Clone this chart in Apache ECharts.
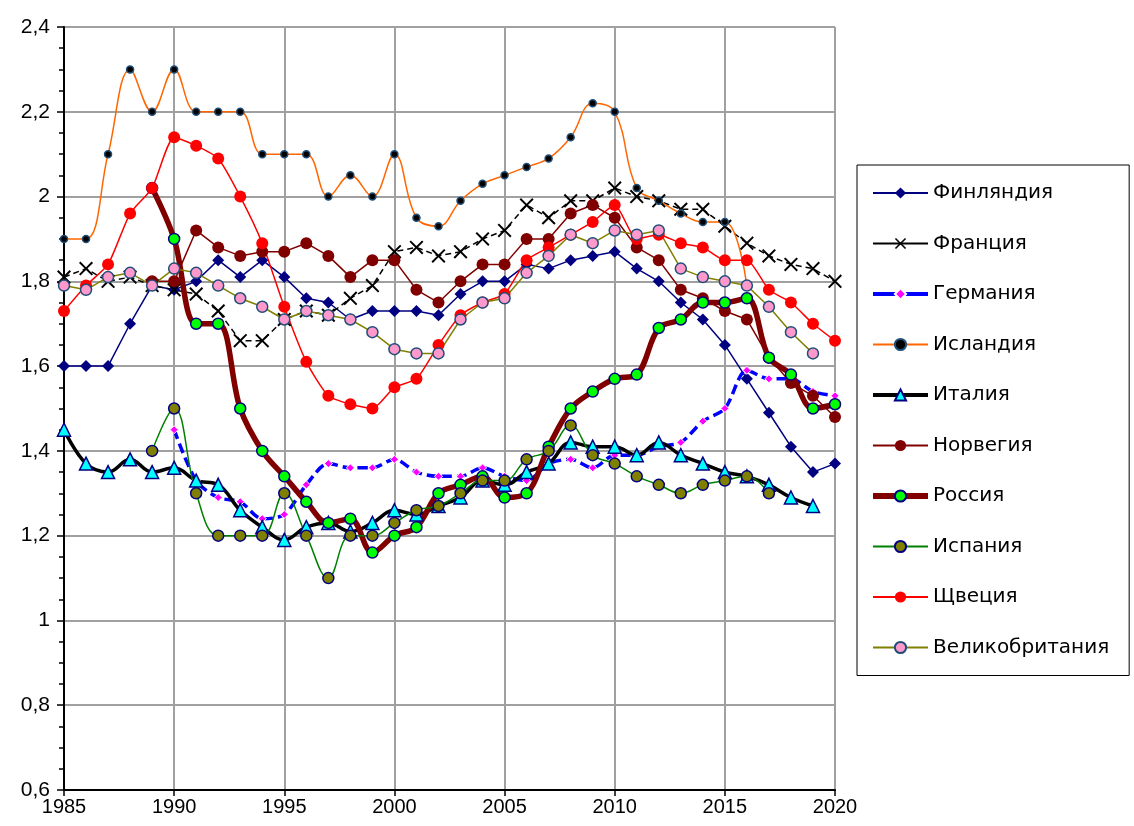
<!DOCTYPE html>
<html>
<head>
<meta charset="utf-8">
<script src="https://cdn.jsdelivr.net/npm/echarts@6/dist/echarts.min.js"></script>
<style>
  html, body { margin: 0; padding: 0; background: #fff; }
  #chart { width: 1134px; height: 826px; }
</style>
</head>
<body>
<div id="chart"></div>
<script>
const years = [];
for (let y = 1985; y <= 2020; y++) years.push(y);

const finland = [1.60,1.60,1.60,1.70,1.79,1.78,1.80,1.85,1.81,1.85,1.81,1.76,1.75,1.71,1.73,1.73,1.73,1.72,1.77,1.80,1.80,1.84,1.83,1.85,1.86,1.87,1.83,1.80,1.75,1.71,1.65,1.57,1.49,1.41,1.35,1.37];
const france = [1.81,1.83,1.80,1.81,1.79,1.78,1.77,1.73,1.66,1.66,1.71,1.73,1.72,1.76,1.79,1.87,1.88,1.86,1.87,1.90,1.92,1.98,1.95,1.99,1.99,2.02,2.00,1.99,1.97,1.97,1.93,1.89,1.86,1.84,1.83,1.80];
const germany = [null,null,null,null,null,1.45,1.33,1.29,1.28,1.24,1.25,1.32,1.37,1.36,1.36,1.38,1.35,1.34,1.34,1.36,1.34,1.33,1.37,1.38,1.36,1.39,1.39,1.41,1.42,1.47,1.50,1.59,1.57,1.57,1.54,1.53];
const iceland = [1.90,1.90,2.10,2.30,2.20,2.30,2.20,2.20,2.20,2.10,2.10,2.10,2.00,2.05,2.00,2.10,1.95,1.93,1.99,2.03,2.05,2.07,2.09,2.14,2.22,2.20,2.02,1.99,1.96,1.94,1.94,1.79,null,null,null,null];
const italy = [1.45,1.37,1.35,1.38,1.35,1.36,1.33,1.32,1.26,1.22,1.19,1.22,1.23,1.21,1.23,1.26,1.25,1.27,1.29,1.33,1.32,1.35,1.37,1.42,1.41,1.41,1.39,1.42,1.39,1.37,1.35,1.34,1.32,1.29,1.27,null];
const norway = [null,null,null,null,1.80,1.80,1.92,1.88,1.86,1.87,1.87,1.89,1.86,1.81,1.85,1.85,1.78,1.75,1.80,1.84,1.84,1.90,1.90,1.96,1.98,1.95,1.88,1.85,1.78,1.76,1.73,1.71,1.62,1.56,1.53,1.48];
const russia = [null,null,null,null,2.02,1.90,1.70,1.70,1.50,1.40,1.34,1.28,1.23,1.24,1.16,1.20,1.22,1.30,1.32,1.34,1.29,1.30,1.41,1.50,1.54,1.57,1.58,1.69,1.71,1.75,1.75,1.76,1.62,1.58,1.50,1.51];
const spain = [null,null,null,null,1.40,1.50,1.30,1.20,1.20,1.20,1.30,1.20,1.10,1.20,1.20,1.23,1.26,1.27,1.30,1.33,1.33,1.38,1.40,1.46,1.39,1.37,1.34,1.32,1.30,1.32,1.33,1.34,1.30,null,null,null];
const sweden = [1.73,1.79,1.84,1.96,2.02,2.14,2.12,2.09,2.00,1.89,1.74,1.61,1.53,1.51,1.50,1.55,1.57,1.65,1.72,1.75,1.77,1.85,1.88,1.91,1.94,1.98,1.90,1.91,1.89,1.88,1.85,1.85,1.78,1.75,1.70,1.66];
const uk = [1.79,1.78,1.81,1.82,1.79,1.83,1.82,1.79,1.76,1.74,1.71,1.73,1.72,1.71,1.68,1.64,1.63,1.63,1.71,1.75,1.76,1.82,1.86,1.91,1.89,1.92,1.91,1.92,1.83,1.81,1.80,1.79,1.74,1.68,1.63,null];

function pairs(vals) {
  return years.map((y, i) => [y, vals[i]]);
}

const crossPath = 'path://M0,1L1,0L5,4L9,0L10,1L6,5L10,9L9,10L5,6L1,10L0,9L4,5Z';

const chart = echarts.init(document.getElementById('chart'));
chart.setOption({
  animation: false,
  backgroundColor: '#fff',
  textStyle: { fontFamily: 'Arial' },
  grid: { left: 64, top: 27, right: 299, bottom: 36 },
  xAxis: {
    type: 'value',
    min: 1985,
    max: 2020,
    interval: 5,
    axisLine: { show: true, onZero: false, lineStyle: { color: '#000', width: 2 } },
    axisTick: { show: true, length: 6, lineStyle: { color: '#000', width: 1.5 } },
    axisLabel: { color: '#000', fontSize: 20, margin: 7, formatter: v => String(v) },
    splitLine: { show: true, lineStyle: { color: '#a0a0a0', width: 2 } }
  },
  yAxis: {
    type: 'value',
    min: 0.6,
    max: 2.4,
    interval: 0.2,
    axisLine: { show: true, onZero: false, lineStyle: { color: '#000', width: 2 } },
    axisTick: { show: true, length: 7, lineStyle: { color: '#000', width: 1.5 } },
    minorTick: { show: true, splitNumber: 4, length: 5, lineStyle: { color: '#000', width: 1.5 } },
    axisLabel: {
      color: '#000', fontSize: 21, margin: 14,
      formatter: v => String(Math.round(v * 10) / 10).replace('.', ',')
    },
    splitLine: { show: true, lineStyle: { color: '#a0a0a0', width: 2 } }
  },
  legend: {
    orient: 'vertical',
    left: 857,
    top: 165,
    padding: [18, 20, 18, 13],
    itemWidth: 55,
    itemHeight: 14,
    itemGap: 30.5,
    borderColor: '#000',
    borderWidth: 1,
    textStyle: { color: '#000', fontSize: 20, fontFamily: 'DejaVu Sans' },
    data: [
      { name: 'Финляндия' },
      { name: 'Франция', lineStyle: { type: 'solid' } },
      { name: 'Германия', lineStyle: { type: 'solid', width: 4 } },
      { name: 'Исландия' },
      { name: 'Италия', lineStyle: { width: 4 } },
      { name: 'Норвегия' },
      { name: 'Россия', lineStyle: { width: 6 } },
      { name: 'Испания' },
      { name: 'Щвеция' },
      { name: 'Великобритания' }
    ]
  },
  series: [
    {
      name: 'Финляндия', type: 'line', data: pairs(finland),
      symbol: 'diamond', symbolSize: 12,
      lineStyle: { color: '#000080', width: 1.5 },
      itemStyle: { color: '#000080' }
    },
    {
      name: 'Франция', type: 'line', data: pairs(france),
      symbol: crossPath, symbolSize: 14,
      lineStyle: { color: '#000', width: 1.5, type: [6, 4] },
      itemStyle: { color: '#000' }
    },
    {
      name: 'Германия', type: 'line', data: pairs(germany), smooth: 0.3,
      symbol: 'diamond', symbolSize: 8,
      lineStyle: { color: '#0000ff', width: 3.5, type: [10, 5] },
      itemStyle: { color: '#ff00ff', borderColor: '#fff', borderWidth: 1 }
    },
    {
      name: 'Исландия', type: 'line', data: pairs(iceland), smooth: 0.4,
      symbol: 'circle', symbolSize: 7,
      lineStyle: { color: '#ff6600', width: 1.5 },
      itemStyle: { color: '#000', borderColor: '#1f4e79', borderWidth: 1.5 }
    },
    {
      name: 'Италия', type: 'line', data: pairs(italy), smooth: 0.4,
      symbol: 'triangle', symbolSize: 13,
      lineStyle: { color: '#000', width: 3.5 },
      itemStyle: { color: '#00ffff', borderColor: '#000080', borderWidth: 1.5 }
    },
    {
      name: 'Норвегия', type: 'line', data: pairs(norway),
      symbol: 'circle', symbolSize: 12,
      lineStyle: { color: '#800000', width: 1.5 },
      itemStyle: { color: '#800000' }
    },
    {
      name: 'Россия', type: 'line', data: pairs(russia), smooth: 0.35,
      symbol: 'circle', symbolSize: 11,
      lineStyle: { color: '#800000', width: 5.5 },
      itemStyle: { color: '#00ff00', borderColor: '#000080', borderWidth: 1.5 }
    },
    {
      name: 'Испания', type: 'line', data: pairs(spain), smooth: 0.4,
      symbol: 'circle', symbolSize: 11,
      lineStyle: { color: '#008000', width: 1.5 },
      itemStyle: { color: '#808000', borderColor: '#000080', borderWidth: 1.5 }
    },
    {
      name: 'Щвеция', type: 'line', data: pairs(sweden), smooth: 0.2,
      symbol: 'circle', symbolSize: 12,
      lineStyle: { color: '#ff0000', width: 1.5 },
      itemStyle: { color: '#ff0000' }
    },
    {
      name: 'Великобритания', type: 'line', data: pairs(uk),
      symbol: 'circle', symbolSize: 11,
      lineStyle: { color: '#808000', width: 1.5 },
      itemStyle: { color: '#ff99cc', borderColor: '#1f4e79', borderWidth: 1.5 }
    }
  ]
});
</script>
</body>
</html>
